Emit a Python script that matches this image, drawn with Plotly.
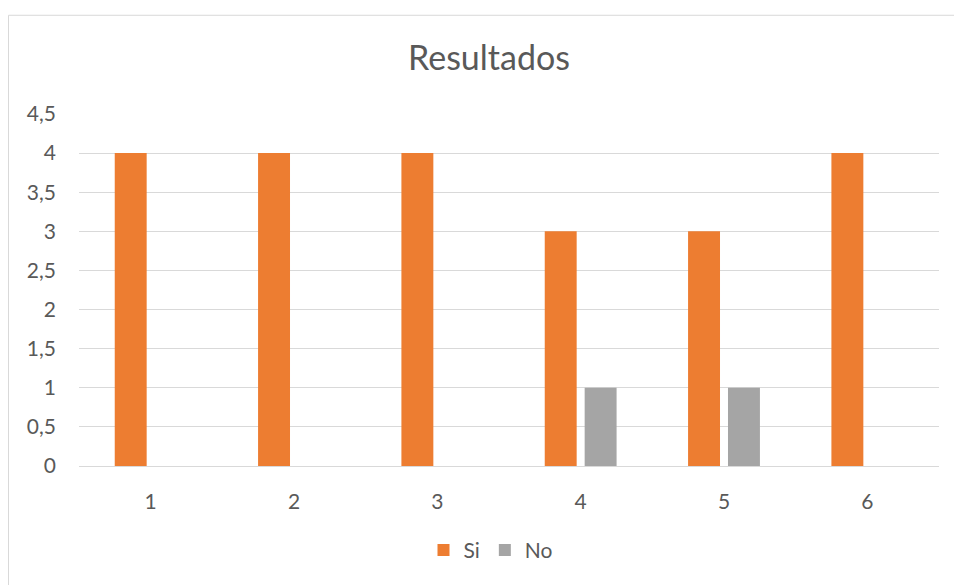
import plotly.graph_objects as go

categories = ["1", "2", "3", "4", "5", "6"]
si_values = [4, 4, 4, 3, 3, 4]
no_values = [0, 0, 0, 1, 1, 0]
y_ticks = [0, 0.5, 1, 1.5, 2, 2.5, 3, 3.5, 4, 4.5]
y_tick_labels = ["0", "0,5", "1", "1,5", "2", "2,5", "3", "3,5", "4", "4,5"]

FONT = "Lato, Carlito, 'Open Sans', sans-serif"
TXT = "#595959"

fig = go.Figure()
fig.add_trace(go.Bar(x=categories, y=si_values, name="Si",
                     marker=dict(color="#ED7D31", line=dict(width=0))))
fig.add_trace(go.Bar(x=categories, y=no_values, name="No",
                     marker=dict(color="#A5A5A5", line=dict(width=0))))

L, R, T, B = 79, 15, 113.5, 118.5
W, H = 954, 585
pw = W - L - R
ph = H - T - B

fig.update_layout(
    width=W, height=H,
    margin=dict(l=L, r=R, t=T, b=B),
    paper_bgcolor="white", plot_bgcolor="white",
    barmode="group", bargap=0.443, bargroupgap=0.2,
    title=dict(text="Resultados", x=489 / W, xanchor="center",
               y=1 - 58 / H, yanchor="middle",
               font=dict(family=FONT, size=34, color=TXT)),
    font=dict(family=FONT, color=TXT, size=21),
    showlegend=True,
    legend=dict(orientation="h", x=(491 - L) / pw, xanchor="center",
                y=(T + ph - 551) / ph, yanchor="middle",
                font=dict(family=FONT, size=21, color=TXT),
                itemwidth=30, tracegroupgap=0, traceorder="normal"),
    xaxis=dict(type="category", showgrid=False, showline=False, zeroline=False,
               ticks="outside", ticklen=17, tickcolor="rgba(0,0,0,0)",
               tickfont=dict(family=FONT, size=21, color=TXT)),
    yaxis=dict(range=[0, 4.5], tickvals=y_ticks, ticktext=y_tick_labels,
               showgrid=True, gridcolor="#D9D9D9", gridwidth=1,
               zeroline=True, zerolinecolor="#D9D9D9", zerolinewidth=1,
               showline=False, ticklabelstandoff=22,
               tickfont=dict(family=FONT, size=21, color=TXT)),
)

fig.add_shape(type="rect", xref="paper", yref="paper",
              x0=(8.5 - L) / pw, x1=(975 - L) / pw,
              y0=(T + ph - 600) / ph, y1=(T + ph - 14.5) / ph,
              line=dict(color="#D9D9D9", width=1), fillcolor="rgba(0,0,0,0)",
              layer="below")

fig.write_html("out.html")
